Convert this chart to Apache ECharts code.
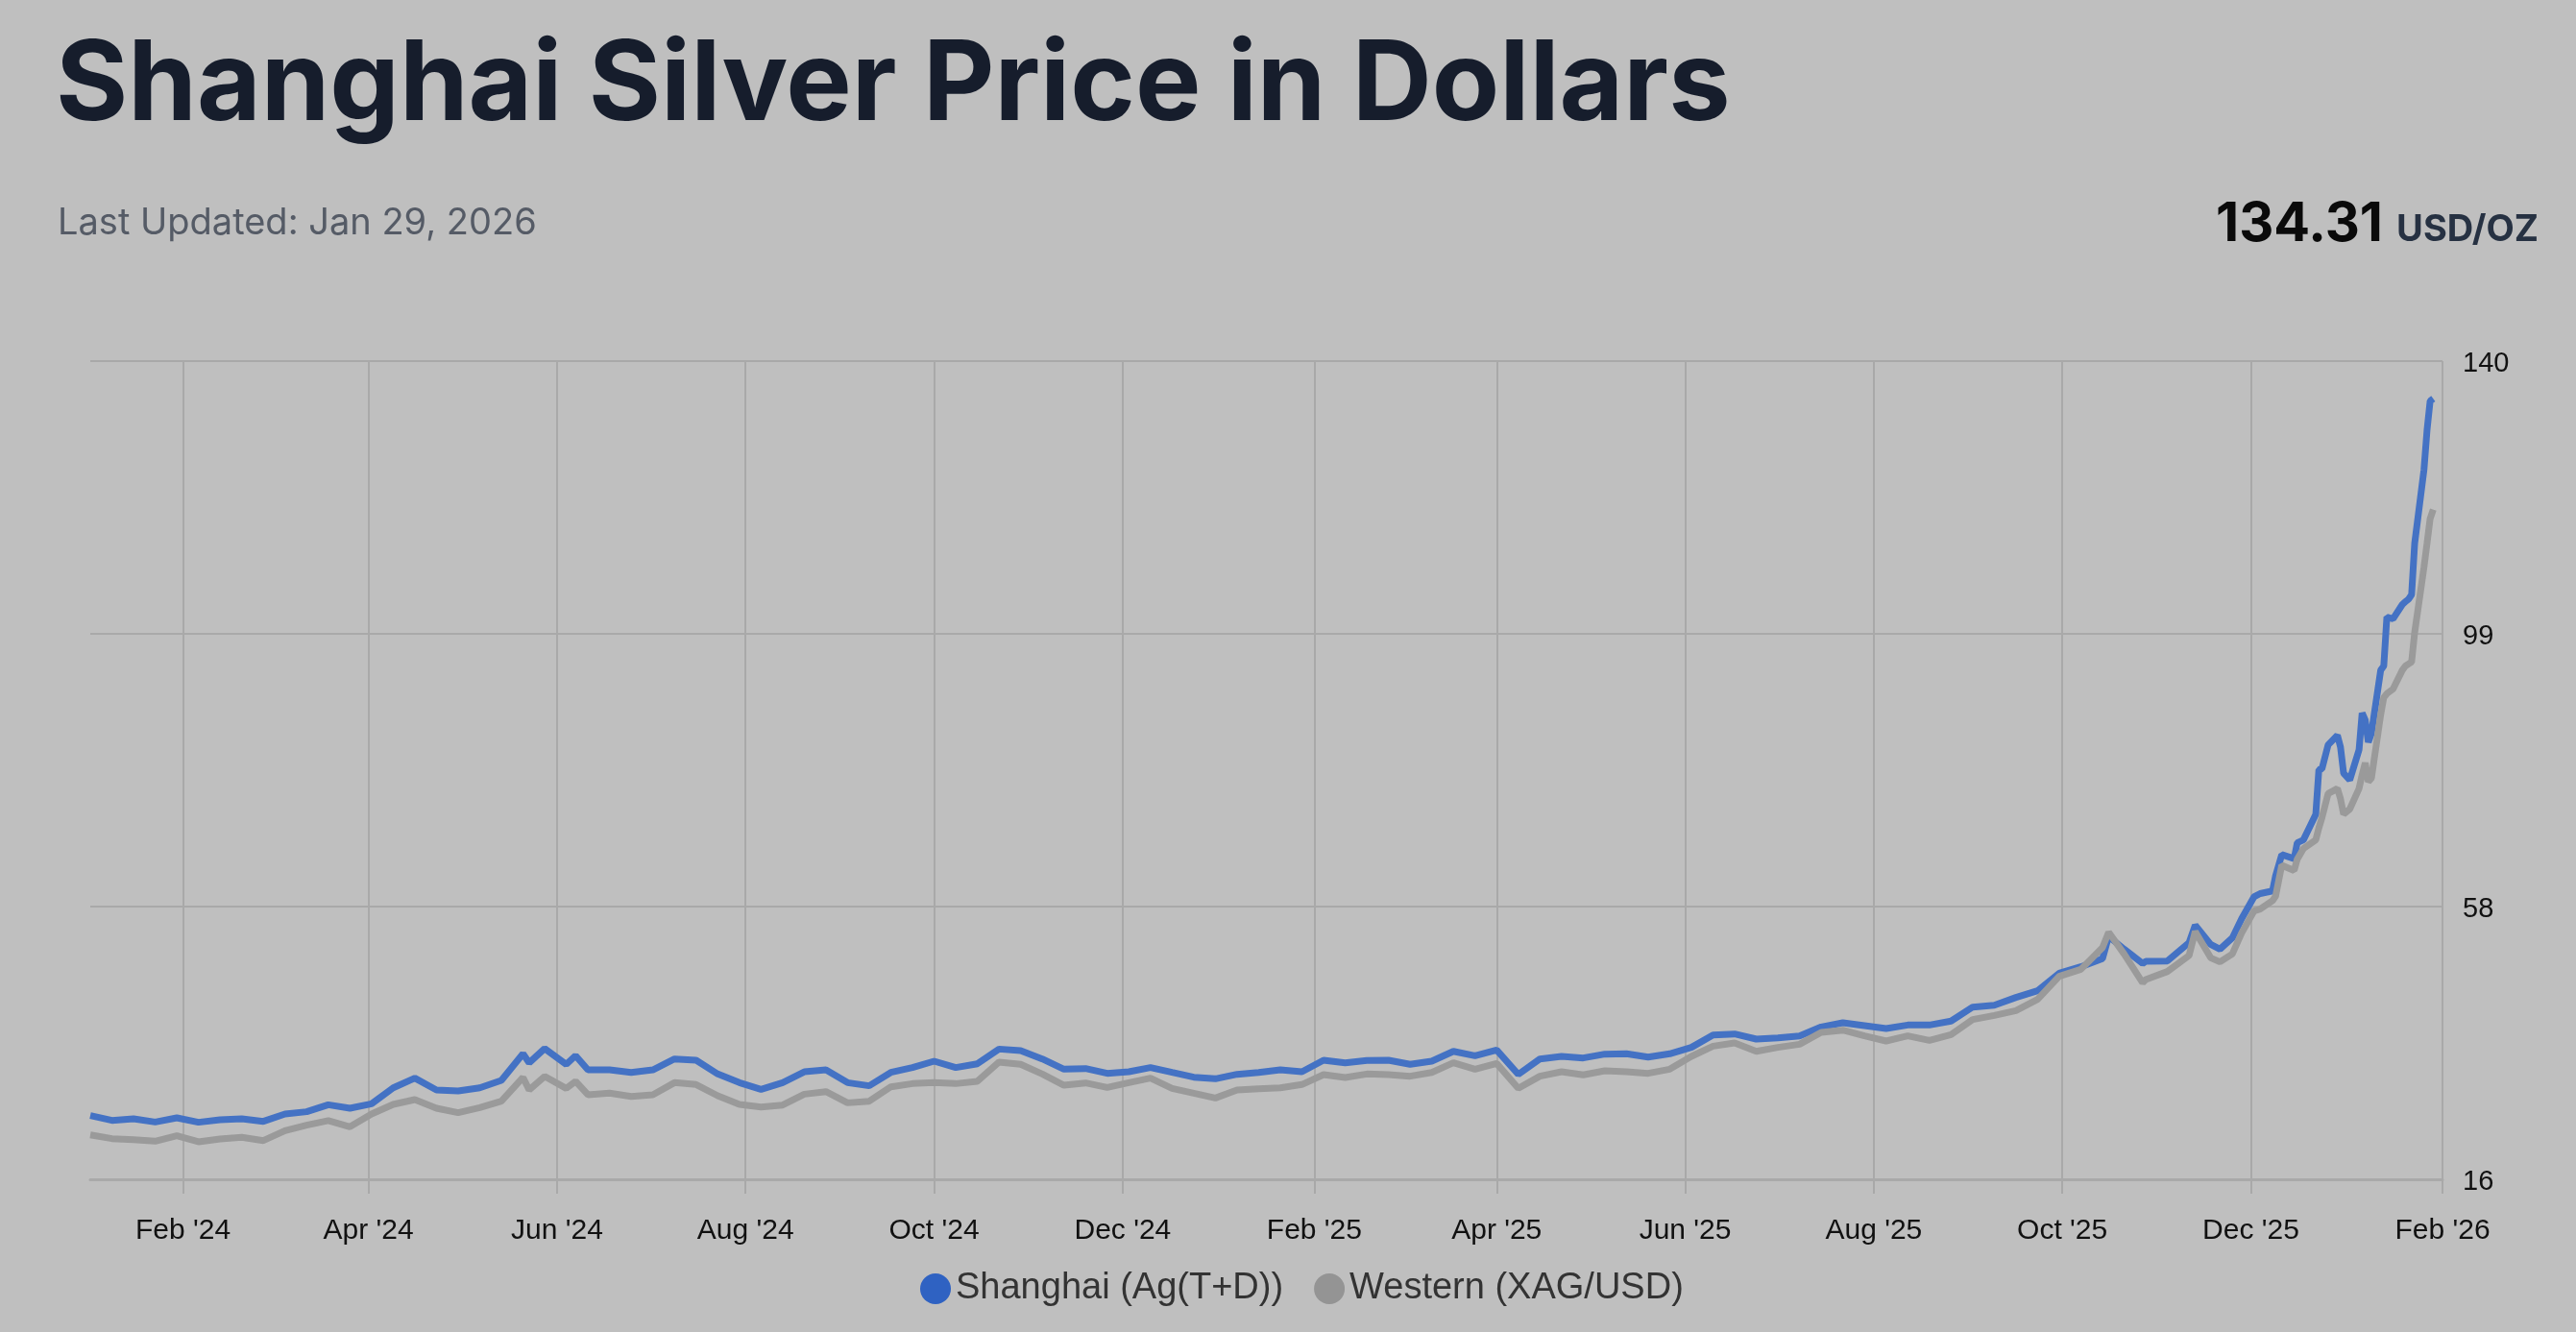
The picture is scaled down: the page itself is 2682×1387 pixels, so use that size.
<!DOCTYPE html>
<html>
<head>
<meta charset="utf-8">
<title>Shanghai Silver Price in Dollars</title>
<script src="https://cdn.jsdelivr.net/npm/echarts@6.0.0/dist/echarts.min.js"></script>
<style>
  html, body { margin: 0; padding: 0; background: #bfbfbf; }
  #chart { width: 2682px; height: 1387px; }
</style>
</head>
<body>
<div id="chart"></div>
<script>
var dates = [
  '2024-01-02','2024-01-09','2024-01-16','2024-01-23','2024-01-30','2024-02-06','2024-02-13','2024-02-20','2024-02-27',
  '2024-03-05','2024-03-12','2024-03-19','2024-03-26','2024-04-02','2024-04-09','2024-04-16','2024-04-23','2024-04-30',
  '2024-05-07','2024-05-14','2024-05-21','2024-05-23','2024-05-28','2024-06-04','2024-06-07','2024-06-11','2024-06-18','2024-06-25','2024-07-02',
  '2024-07-09','2024-07-16','2024-07-23','2024-07-30','2024-08-06','2024-08-13','2024-08-20','2024-08-27','2024-09-03',
  '2024-09-10','2024-09-17','2024-09-24','2024-10-01','2024-10-08','2024-10-15','2024-10-22','2024-10-29','2024-11-05',
  '2024-11-12','2024-11-19','2024-11-26','2024-12-03','2024-12-10','2024-12-17','2024-12-24','2024-12-31',
  '2025-01-07','2025-01-14','2025-01-21','2025-01-28','2025-02-04','2025-02-11','2025-02-18','2025-02-25','2025-03-04',
  '2025-03-11','2025-03-18','2025-03-25','2025-04-01','2025-04-08','2025-04-15','2025-04-22','2025-04-29','2025-05-06',
  '2025-05-13','2025-05-20','2025-05-27','2025-06-03','2025-06-10','2025-06-17','2025-06-24','2025-07-01','2025-07-08',
  '2025-07-15','2025-07-22','2025-07-29','2025-08-05','2025-08-12','2025-08-19','2025-08-26','2025-09-02','2025-09-09',
  '2025-09-16','2025-09-23','2025-09-30','2025-10-07','2025-10-14','2025-10-16','2025-10-21','2025-10-27','2025-10-28',
  '2025-11-04','2025-11-11','2025-11-13','2025-11-18','2025-11-21','2025-11-25','2025-11-28',
  '2025-12-02','2025-12-04','2025-12-08','2025-12-09','2025-12-11','2025-12-15','2025-12-16','2025-12-18','2025-12-22',
  '2025-12-23','2025-12-24','2025-12-26','2025-12-29','2025-12-30','2025-12-31','2026-01-02','2026-01-05','2026-01-06',
  '2026-01-07','2026-01-08','2026-01-09','2026-01-12','2026-01-13','2026-01-14','2026-01-16','2026-01-19','2026-01-20',
  '2026-01-21','2026-01-22','2026-01-23','2026-01-26','2026-01-27','2026-01-28','2026-01-29'
];

// Shanghai (Ag(T+D)) in USD/oz
var shanghai = [
  25.65,24.93,25.17,24.68,25.31,24.64,25.02,25.17,24.78,
  25.90,26.24,27.30,26.77,27.45,29.87,31.33,29.54,29.39,
  29.87,30.99,35.02,33.66,35.80,33.42,34.73,32.59,32.59,32.20,32.59,
  34.24,34.05,31.96,30.65,29.63,30.65,32.30,32.59,30.65,
  30.17,32.20,32.93,33.90,32.93,33.51,35.74,35.50,34.24,
  32.69,32.79,32.06,32.30,32.93,32.20,31.48,31.23,
  31.91,32.20,32.59,32.30,34.05,33.66,34.00,34.05,33.42,
  33.90,35.40,34.73,35.60,31.90,34.24,34.63,34.39,34.97,
  35.02,34.53,35.02,35.99,37.88,38.03,37.25,37.44,37.73,
  39.09,39.72,39.29,38.85,39.38,39.38,39.97,42.10,42.39,
  43.56,44.57,47.24,48.21,49.43,52.80,50.88,48.70,49.04,
  49.09,51.85,54.52,51.61,50.88,52.58,55.49,
  58.80,59.30,59.70,62.00,65.20,64.60,67.00,67.43,71.32,
  78.08,78.20,81.83,83.28,81.50,77.56,76.53,81.10,86.66,
  85.62,82.24,83.60,93.15,93.80,101.21,100.95,103.10,103.55,
  103.90,104.59,112.39,123.50,129.53,133.96,134.31
];

// Western (XAG/USD) in USD/oz
var western = [
  22.74,22.16,22.02,21.77,22.60,21.68,22.11,22.36,21.87,
  23.37,24.20,24.90,23.96,25.90,27.35,28.08,26.77,26.10,
  26.87,27.84,31.43,29.54,31.60,29.78,30.85,28.81,29.05,28.56,28.81,
  30.65,30.36,28.66,27.35,26.96,27.25,28.90,29.29,27.59,
  27.84,30.02,30.50,30.65,30.50,30.85,33.76,33.42,31.96,
  30.26,30.60,29.92,30.65,31.33,29.78,29.05,28.32,
  29.54,29.73,29.87,30.36,31.86,31.43,31.96,31.86,31.62,
  32.20,33.66,32.69,33.56,29.78,31.62,32.30,31.82,32.45,
  32.30,32.06,32.69,34.63,36.18,36.67,35.40,35.99,36.47,
  38.27,38.61,37.73,36.96,37.73,37.05,37.93,40.21,40.84,
  41.57,43.26,46.76,47.82,51.12,53.45,50.15,45.79,46.27,
  47.49,49.91,53.55,49.57,48.94,50.15,53.31,
  56.65,56.94,58.21,58.89,63.60,62.80,64.50,66.12,67.43,
  69.25,70.81,74.45,75.22,73.66,71.32,72.11,75.22,77.30,
  79.12,76.27,76.78,86.40,89.00,89.60,90.30,93.15,93.80,
  94.10,94.40,98.87,108.75,112.39,116.13,117.50
];

// axis ticks
var xTickDates = ['2024-02-01','2024-04-01','2024-06-01','2024-08-01','2024-10-01','2024-12-01','2025-02-01',
  '2025-04-01','2025-06-01','2025-08-01','2025-10-01','2025-12-01','2026-02-01'];
var monthNames = ['Jan','Feb','Mar','Apr','May','Jun','Jul','Aug','Sep','Oct','Nov','Dec'];
var yTickValues = [16, 57.33, 98.67, 140];
var yTickLabels = ['16', '58', '99', '140'];

var seriesNames = ['Shanghai (Ag(T+D))', 'Western (XAG/USD)'];

function toTime(s) {
  var p = s.split('-');
  return new Date(+p[0], +p[1] - 1, +p[2]).getTime();
}

var shanghaiData = [];
var westernData = [];
for (var i = 0; i < dates.length; i++) {
  shanghaiData.push([toTime(dates[i]), shanghai[i]]);
  westernData.push([toTime(dates[i]), western[i]]);
}
var xTicks = xTickDates.map(toTime);
var lastPrice = shanghai[shanghai.length - 1].toFixed(2);

var myChart = echarts.init(document.getElementById('chart'));
var gridColor = '#a9a9a9';
var option = {
  backgroundColor: '#bfbfbf',
  animation: false,
  title: [
    {
      text: 'Shanghai Silver Price in Dollars',
      left: 58, top: 33, padding: 0,
      textStyle: { fontFamily: 'Inter', fontWeight: 700, fontSize: 115, lineHeight: 115, color: '#161d2c' }
    },
    {
      text: 'Last Updated: Jan 29, 2026',
      left: 60, top: 214, padding: 0,
      textStyle: { fontFamily: 'Inter', fontWeight: 400, fontSize: 38, lineHeight: 38, color: '#555b66' }
    },
    {
      text: lastPrice,
      right: 201, top: 206, padding: 0,
      textStyle: { fontFamily: 'Inter', fontWeight: 700, fontSize: 56, lineHeight: 56, color: '#0a0a0a' }
    },
    {
      text: 'USD/OZ',
      right: 39, top: 221, padding: 0,
      textStyle: { fontFamily: 'Inter', fontWeight: 700, fontSize: 38, lineHeight: 38, color: '#263142' }
    }
  ],
  legend: {
    data: seriesNames,
    left: 953,
    top: 1318,
    icon: 'circle',
    itemWidth: 32,
    itemHeight: 32,
    itemGap: 32,
    textStyle: { fontFamily: 'Liberation Sans', fontSize: 38, color: '#333333' }
  },
  grid: { left: 94, right: 139, top: 376, bottom: 159, containLabel: false, outerBoundsMode: 'none' },
  xAxis: {
    // timestamps on a value axis, so the two-monthly ticks can be set exactly
    type: 'value',
    min: toTime('2024-01-02'),
    max: toTime('2026-02-01'),
    axisLine: { lineStyle: { color: gridColor, width: 3 } },
    axisTick: { show: true, length: 15, customValues: xTicks, lineStyle: { color: gridColor, width: 2 } },
    axisLabel: {
      customValues: xTicks,
      margin: 39,
      fontFamily: 'Liberation Sans',
      fontSize: 30,
      color: '#111111',
      formatter: function (v) {
        var d = new Date(v);
        return monthNames[d.getMonth()] + " '" + String(d.getFullYear()).slice(2);
      }
    },
    splitLine: { show: true, lineStyle: { color: gridColor, width: 2 } }
  },
  yAxis: {
    type: 'value',
    position: 'right',
    min: 16,
    max: 140,
    axisLine: { show: false },
    axisTick: { show: false, customValues: yTickValues },
    axisLabel: {
      customValues: yTickValues,
      margin: 21,
      verticalAlign: 'top',
      lineHeight: 6,
      fontFamily: 'Liberation Sans',
      fontSize: 29,
      color: '#111111',
      formatter: function (v) {
        var idx = yTickValues.indexOf(v);
        return idx >= 0 ? yTickLabels[idx] : '';
      }
    },
    splitLine: { show: true, lineStyle: { color: gridColor, width: 2 } }
  },
  series: [
    {
      name: seriesNames[0],
      type: 'line',
      data: shanghaiData,
      showSymbol: false,
      symbol: 'circle',
      lineStyle: { width: 7, color: '#4472c4' },
      itemStyle: { color: '#2f62c2' }
    },
    {
      name: seriesNames[1],
      type: 'line',
      data: westernData,
      showSymbol: false,
      symbol: 'circle',
      lineStyle: { width: 7, color: '#9a9a9a' },
      itemStyle: { color: '#949494' }
    }
  ]
};
myChart.setOption(option);
</script>
</body>
</html>
